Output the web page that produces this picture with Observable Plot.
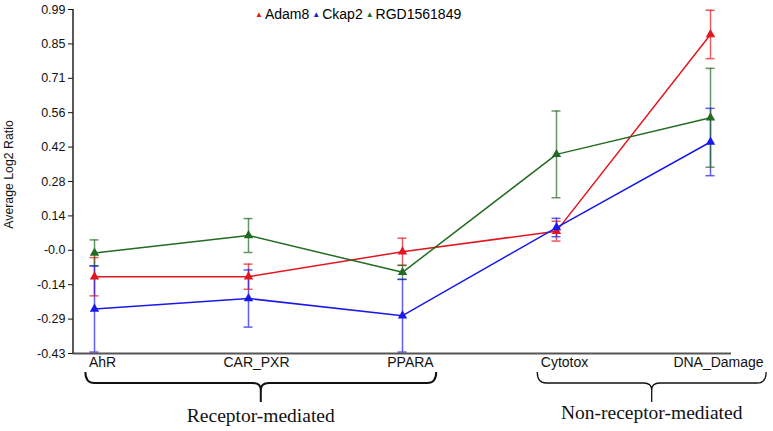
<!DOCTYPE html>
<html>
<head>
<meta charset="utf-8">
<script src="https://cdn.jsdelivr.net/npm/d3@7"></script>
<script src="https://cdn.jsdelivr.net/npm/@observablehq/plot@0.6"></script>
<style>
  html, body { margin: 0; padding: 0; background: #fff; }
  #wrap { position: relative; width: 773px; height: 431px; font-family: "Liberation Sans", Arial, sans-serif; }
  #legend { position: absolute; top: 6px; left: 255px; font-size: 14px; color: #000; white-space: nowrap; }
  #legend .tri { font-size: 8px; position: relative; top: -2px; margin-right: 2px; }
  #legend .item { margin-right: 3px; }
</style>
</head>
<body>
<div id="wrap"><div id="legend"></div></div>
<script>
const categories = ["AhR", "CAR_PXR", "PPARA", "Cytotox", "DNA_Damage"];
const seriesNames = ["Adam8", "Ckap2", "RGD1561849"];
const adam8 = [-0.113, -0.113, -0.010, 0.075, 0.887];
const adam8Err = [0.079, 0.052, 0.056, 0.041, 0.100];
const ckap2 = [-0.246, -0.203, -0.274, 0.090, 0.443];
const ckap2Err = [0.178, 0.118, 0.150, 0.038, 0.139];
const rgd = [-0.015, 0.057, -0.095, 0.392, 0.543];
const rgdErr = [0.054, 0.070, 0.029, 0.179, 0.204];
const yTickLabels = ["-0.43", "-0.29", "-0.14", "-0.0", "0.14", "0.28", "0.42", "0.56", "0.71", "0.85", "0.99"];
const yMin = -0.43, yMax = 0.99;
const groupLabels = ["Receptor-mediated", "Non-receptor-mediated"];
const groupFrom = ["AhR", "Cytotox"];
const groupTo = ["PPARA", "DNA_Damage"];

const colors = ["#e3161d", "#1a1ae8", "#236b23"];
const values = [adam8, ckap2, rgd];
const errs = [adam8Err, ckap2Err, rgdErr];
const data = [];
seriesNames.forEach((s, si) => categories.forEach((c, ci) => data.push({
  series: s, cat: c, v: values[si][ci], lo: values[si][ci] - errs[si][ci], hi: values[si][ci] + errs[si][ci]
})));

const step = (yMax - yMin) / (yTickLabels.length - 1);
const yTicks = yTickLabels.map((_, i) => yMin + i * step);

const canvas = document.createElement("canvas");
const cctx = canvas.getContext("2d");
cctx.font = "14px 'Liberation Sans'";

function decorations(index, scales, vals, dim) {
  const g = d3.create("svg:g");
  const y0 = dim.height - dim.marginBottom;
  // left axis line
  g.append("line").attr("x1", dim.marginLeft).attr("x2", dim.marginLeft)
    .attr("y1", dim.marginTop).attr("y2", y0).attr("stroke", "#222").attr("stroke-width", 1.5);
  groupLabels.forEach((lab, i) => {
    const wl = cctx.measureText(groupFrom[i]).width;
    const wr = cctx.measureText(groupTo[i]).width;
    const L = scales.x(groupFrom[i]) + 8 - wl / 2 - 3;
    const R = scales.x(groupTo[i]) + 8 + wr / 2 + 3;
    const M = (L + R) / 2;
    const yt = y0 + 19, yh = y0 + 30, yb = y0 + 49;
    const p = `M${L},${yt} Q${L},${yh} ${L + 9},${yh} H${M - 8} Q${M},${yh} ${M},${yh + 7} V${yb} M${M},${yh + 7} Q${M},${yh} ${M + 8},${yh} H${R - 9} Q${R},${yh} ${R},${yt}`;
    g.append("path").attr("d", p).attr("fill", "none").attr("stroke", "#111").attr("stroke-width", i === 0 ? 2 : 1.3);
    g.append("text").attr("x", M).attr("y", y0 + (i === 0 ? 69 : 66)).attr("text-anchor", "middle")
      .attr("font-family", "'Liberation Serif', 'Times New Roman', serif").attr("font-size", 19.5).attr("fill", "#111").text(lab);
  });
  return g.node();
}

const chart = Plot.plot({
  width: 773,
  height: 431,
  marginLeft: 73,
  marginRight: 42,
  marginTop: 9,
  marginBottom: 78,
  style: { fontFamily: "'Liberation Sans', Arial, sans-serif", fontSize: "12.5px", color: "#111", background: "#fff" },
  x: { type: "point", domain: categories, padding: 0.1226 },
  y: { domain: [yMin, yMax] },
  color: { domain: seriesNames, range: colors },
  marks: [
    Plot.ruleX(data, { x: "cat", y1: "lo", y2: "hi", stroke: "series", strokeWidth: 1.5, strokeOpacity: 0.7 }),
    Plot.ruleY(data, { x1: "cat", x2: "cat", y: "lo", stroke: "series", strokeWidth: 1.5, strokeOpacity: 0.7, insetLeft: -4.5, insetRight: -4.5 }),
    Plot.ruleY(data, { x1: "cat", x2: "cat", y: "hi", stroke: "series", strokeWidth: 1.5, strokeOpacity: 0.7, insetLeft: -4.5, insetRight: -4.5 }),
    Plot.line(data, { x: "cat", y: "v", z: "series", stroke: "series", strokeWidth: 1.5 }),
    Plot.dot(data, { x: "cat", y: "v", fill: "series", symbol: "triangle", r: 3.5 }),
    Plot.axisY({ ticks: yTicks, tickFormat: d => yTickLabels[Math.round((d - yMin) / step)], tickSize: 5, tickPadding: 3, label: null, fontSize: 12.5 }),
    Plot.axisX({ tickSize: 0, tickPadding: 4, dx: 8, label: null, fontSize: 14 }),
    Plot.ruleY([yMin], { stroke: "#555", strokeWidth: 2 }),
    Plot.text(["Average Log2 Ratio"], { frameAnchor: "left", textAnchor: "middle", rotate: -90, dx: -64, dy: -7, fontSize: 12.3, fill: "#111" }),
    decorations
  ]
});
document.getElementById("wrap").prepend(chart);

const legend = document.getElementById("legend");
seriesNames.forEach((s, i) => {
  const item = document.createElement("span");
  item.className = "item";
  item.innerHTML = `<span class="tri" style="color:${colors[i]}">▲</span>${s}`;
  legend.appendChild(item);
});
</script>
</body>
</html>
